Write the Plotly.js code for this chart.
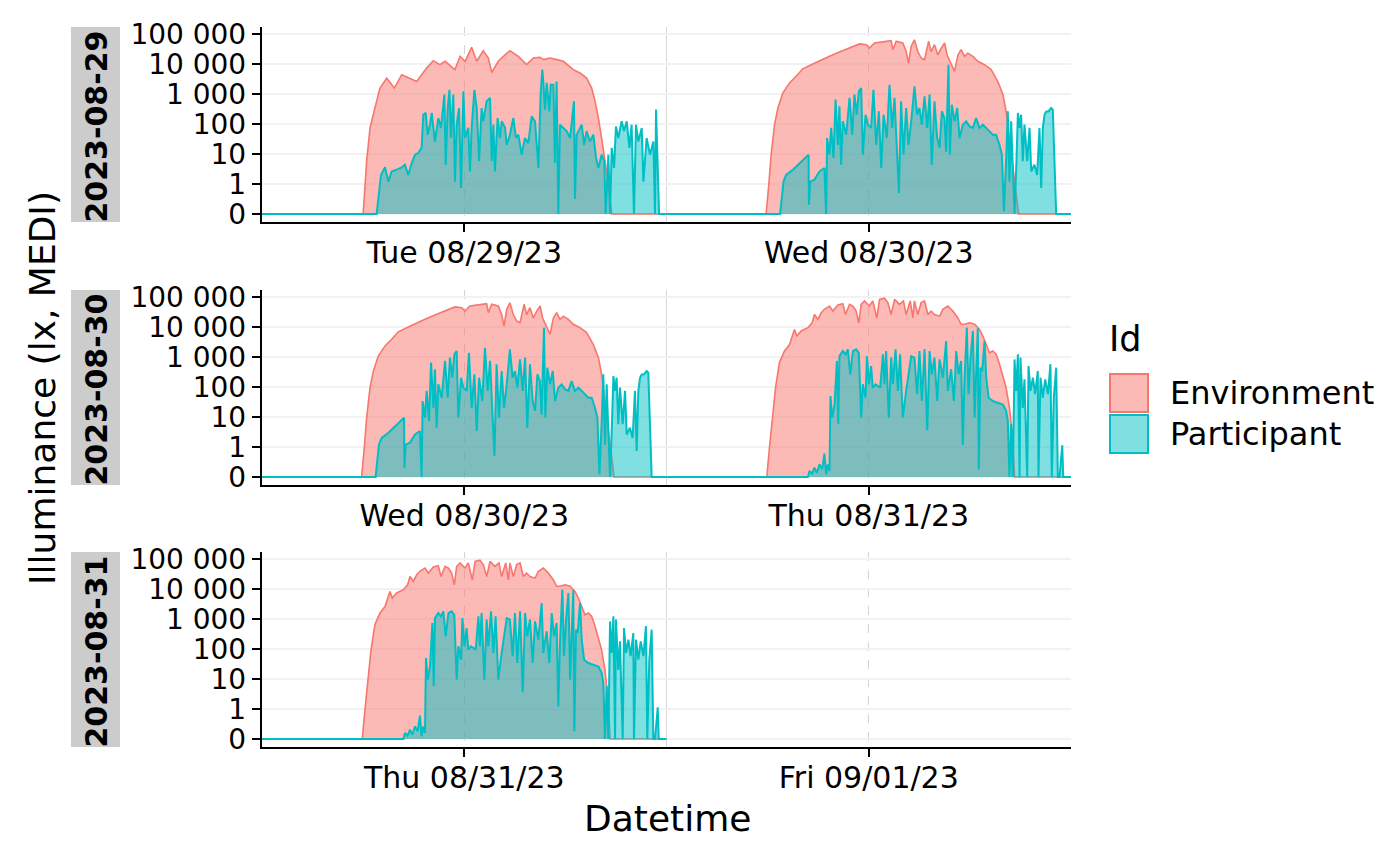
<!DOCTYPE html>
<html><head><meta charset="utf-8">
<script src="https://cdn.plot.ly/plotly-3.0.1.min.js"></script>
<style>html,body{margin:0;padding:0;background:#fff}#chart{width:1400px;height:866px}</style>
</head><body><div id="chart"></div>
<script>
// ---------- data ----------
const days = ['2023-08-29','2023-08-30','2023-08-31','2023-09-01'];
const dayLabels = ['Tue 08/29/23','Wed 08/30/23','Thu 08/31/23','Fri 09/01/23'];
const stripLabels = ['2023-08-29','2023-08-30','2023-08-31'];
const seriesNames = ['Environment','Participant'];
const yTickValues = [0,1,10,100,1000,10000,100000];
const yTickLabels = ['0','1','10','100','1 000','10 000','100 000'];

// Day 1 (2023-08-29): hours of day, illuminance (lx)
const envHours1 = [0,6.0,6.21,6.41,6.70,7.00,7.40,7.85,8.29,8.78,9.18,9.47,9.77,10.16,10.56,10.86,11.45,11.75,12.05,12.44,12.74,13.13,13.43,13.63,14.02,14.42,14.71,15.21,15.41,15.70,16.10,16.50,16.69,17.09,17.48,17.88,18.47,18.87,19.26,19.56,19.76,19.96,20.15,20.35,20.55,20.75,24];
const envLux1 = [0,0,5.8,74,340,1580,3400,1580,4400,3400,2600,4400,7400,12900,9500,12300,6500,18000,12300,36000,12300,27500,15800,5200,12300,20000,27500,18000,14000,9500,15800,16600,14000,15800,14000,12300,6500,5000,3400,1580,575,158,34,5.8,0.98,0,0];
const partHours1 = [0,6.80,7.06,7.30,7.50,7.69,7.99,8.29,8.48,8.68,8.88,9.08,9.28,9.47,9.57,9.71,9.83,9.97,10.07,10.26,10.46,10.62,10.82,10.90,11.02,11.12,11.21,11.35,11.45,11.55,11.69,11.81,11.95,12.04,12.24,12.34,12.44,12.60,12.74,12.88,13.03,13.13,13.33,13.53,13.63,13.73,13.82,13.98,14.12,14.22,14.42,14.52,14.71,14.91,15.07,15.21,15.41,15.60,15.80,16.00,16.20,16.40,16.53,16.63,16.69,16.79,16.89,17.05,17.13,17.29,17.38,17.48,17.58,17.68,17.88,18.08,18.28,18.51,18.57,18.67,18.97,19.11,19.26,19.46,19.66,19.82,19.96,20.15,20.31,20.39,20.55,20.65,20.75,20.89,21.00,21.14,21.34,21.48,21.64,21.80,21.93,22.07,22.19,22.33,22.53,22.63,22.82,23.02,23.22,23.32,23.38,23.46,23.56,24];
const partLux1 = [0,0,2.0,3.6,1.2,2.6,3.0,3.6,4.4,2.0,5,9.5,11,16,204,234,44,95,234,26,158,74,955,4.4,340,1380,34,955,1.2,95,340,0.87,1230,34,74,2.6,74,1380,340,5.8,340,123,575,741,5.8,95,2.6,158,34,123,74,20,44,158,34,44,9.5,34,23,180,123,3.4,955,6460,2630,300,2340,263,2040,2040,5,2630,0,95,74,58,34,575,0.5,44,95,20,58,26,44,7.4,3.4,9.5,5.8,0,9.5,0,16,3.4,83,34,123,58,123,16,95,0,95,26,74,1.2,34,9.5,26,0,302,5.8,0,0];

// Day 2 (2023-08-30)
const envHours2 = [0,5.91,6.07,6.21,6.41,6.61,6.90,7.30,7.69,8.09,8.68,9.18,9.67,10.26,10.86,11.45,11.85,12.04,12.34,12.84,13.33,13.43,13.63,14.02,14.22,14.36,14.52,14.71,14.91,15.11,15.31,15.55,15.70,15.90,16.10,16.30,16.50,16.65,16.89,17.09,17.29,17.48,17.68,17.88,18.18,18.47,18.87,19.26,19.66,19.96,20.15,20.35,20.55,20.75,20.89,24];
const envLux2 = [0,0,0.98,9.5,95,340,1070,2340,3900,6900,10000,13800,18000,25000,34000,46700,44000,34000,50000,54000,60000,30000,57000,50000,26000,10700,39000,64000,26000,15800,13800,57000,26000,44000,20000,34000,50000,20000,9500,5700,20000,30000,18000,23000,18000,12300,9500,6500,2600,955,263,34,3.4,0.64,0,0];
const partHours2 = [0,6.74,6.94,7.10,7.50,7.89,8.19,8.43,8.45,8.52,8.78,9.08,9.37,9.47,9.53,9.67,9.77,9.91,10.03,10.17,10.26,10.36,10.46,10.66,10.86,11.02,11.15,11.29,11.41,11.55,11.65,11.81,11.95,12.14,12.28,12.44,12.60,12.74,12.88,13.07,13.23,13.39,13.53,13.67,13.79,13.92,14.06,14.22,14.36,14.52,14.71,14.87,15.01,15.15,15.31,15.47,15.61,15.74,15.90,16.06,16.20,16.34,16.49,16.59,16.73,16.81,16.93,17.09,17.25,17.39,17.58,17.78,17.98,18.18,18.37,18.57,18.77,18.97,19.17,19.36,19.56,19.76,19.90,20.02,20.15,20.25,20.35,20.45,20.55,20.65,20.75,20.85,20.95,21.04,21.14,21.24,21.40,21.54,21.64,21.83,21.99,22.13,22.23,22.33,22.43,22.53,22.67,22.82,22.92,23.02,23.12,24];
const partLux2 = [0,0,1.2,2.0,3.0,5,7.4,9.5,0.31,1.2,1.4,2.6,3.4,0,34,9.5,74,7.4,650,20,390,4.4,123,44,740,44,955,204,1230,1580,9.5,204,95,74,1380,20,263,3.4,204,34,2040,74,740,7.4,0.7,575,9.5,340,20,123,1800,204,340,95,830,74,955,4.4,575,34,16,263,158,12,9500,9.5,440,123,340,34,95,123,83,74,158,74,95,74,58,44,44,20,9.5,0.09,5.8,263,1.2,123,3.4,0,3.4,234,74,204,5.8,95,5.8,74,2.6,4.4,2.0,74,0.87,74,204,263,263,340,300,2.6,0,0];

// Day 3 (2023-08-31)
const envHours3 = [0,5.95,6.11,6.27,6.47,6.70,7.00,7.30,7.50,7.59,7.73,7.99,8.39,8.64,8.78,8.98,9.18,9.37,9.67,9.87,10.17,10.46,10.62,10.86,11.06,11.25,11.41,11.55,11.75,12.04,12.24,12.48,12.64,12.93,13.13,13.33,13.53,13.82,14.06,14.22,14.46,14.62,14.71,14.91,15.11,15.31,15.51,15.70,15.90,16.20,16.40,16.69,16.99,17.29,17.48,17.68,17.98,18.28,18.57,18.77,18.97,19.16,19.36,19.56,19.76,19.96,20.15,20.35,20.55,20.65,24];
const envLux3 = [0,0,0.98,9.5,95,650,1580,2600,6500,8300,5000,7400,9500,13800,26000,18000,30000,39000,50000,34000,54000,60000,26000,57000,50000,34000,13800,57000,74000,50000,74000,20000,83000,91000,65000,26000,83000,57000,74000,26000,74000,20000,74000,26000,65000,74000,26000,34000,26000,23000,39000,50000,34000,20000,12300,12300,13800,12300,8300,5000,2600,1380,1580,1230,575,234,95,20,1.6,0,0];
const partHours3 = [0,8.39,8.48,8.64,8.78,8.92,9.08,9.24,9.37,9.47,9.57,9.67,9.73,9.83,9.97,10.11,10.19,10.26,10.46,10.62,10.76,10.90,11.06,11.25,11.41,11.55,11.65,11.81,11.89,12.01,12.14,12.24,12.40,12.54,12.68,12.84,12.93,13.03,13.19,13.33,13.43,13.59,13.73,13.86,14.02,14.22,14.38,14.52,14.71,14.87,15.01,15.15,15.31,15.47,15.61,15.74,15.90,16.06,16.20,16.40,16.59,16.69,16.89,17.05,17.19,17.33,17.48,17.58,17.68,17.82,17.92,18.04,18.18,18.28,18.37,18.47,18.53,18.63,18.73,18.87,18.97,19.11,19.36,19.66,19.96,20.15,20.25,20.35,20.45,20.55,20.65,20.75,20.85,20.95,21.00,21.14,21.24,21.40,21.48,21.60,21.74,21.87,22.03,22.07,22.19,22.33,22.47,22.63,22.78,22.86,22.98,23.12,23.22,23.32,23.48,23.54,24];
const partLux3 = [0,0,0.2,0.11,0.31,0.14,0.42,0.26,0.78,0.09,0.42,0.2,50,9.5,26,740,5.8,1070,1580,1230,1800,263,1580,1800,1380,9.5,123,44,1070,123,500,95,123,107,95,1230,123,1580,9.5,955,123,1800,74,1230,9.5,74,340,1070,955,58,1580,34,1800,3.6,1580,263,955,34,830,204,3400,74,390,34,1580,263,740,1.2,158,9500,58,955,7400,9.5,263,9100,0.26,440,340,3400,204,44,34,30,26,16,7.4,0,5.8,0,830,74,1230,0,955,20,180,0,500,74,204,58,340,0,204,44,180,58,575,0,44,440,0,0,1.14,0,0];

const dayData = [
  {env: [envHours1, envLux1], part: [partHours1, partLux1]},
  {env: [envHours2, envLux2], part: [partHours2, partLux2]},
  {env: [envHours3, envLux3], part: [partHours3, partLux3]}
];

// ---------- helpers ----------
const W = 1400, H = 866;
const FONT = 'DejaVu Sans, Verdana, sans-serif';
const envColor = '#F8766D', partColor = '#00BFC4';
const envFill = 'rgba(248,118,109,0.5)', partFill = 'rgba(0,191,196,0.5)';
function symlog(v){ return v <= 1 ? v : 1 + Math.log10(v); }
function stamp(day, h){
  const base = Date.parse(day + 'T00:00:00Z');
  return new Date(base + Math.round(h*3600000)).toISOString().slice(0,19).replace('T',' ');
}
const px = x => x / W;
const py = y => 1 - y / H;

// panel geometry (pixels)
const panelX = [262, 1071];
const panelY = [[27,222],[290,485],[552,747]];

const traces = [];
const layout = {
  width: W, height: H, autosize: false,
  margin: {l:0, r:0, t:0, b:0, pad:0},
  paper_bgcolor: '#ffffff', plot_bgcolor: '#ffffff',
  showlegend: false,
  font: {family: FONT, color: '#000000'},
  shapes: [], annotations: []
};

for (let r = 0; r < 3; r++) {
  const s = r === 0 ? '' : String(r + 1);
  const xa = 'x' + s, ya = 'y' + s;
  // day r on the left half, day r+1 on the right half
  for (const d of [r, r + 1]) {
    if (d > 2) continue;
    const dd = dayData[d];
    traces.push({
      type: 'scatter', mode: 'lines', name: seriesNames[0], xaxis: xa, yaxis: ya,
      x: dd.env[0].map(h => stamp(days[d], h)), y: dd.env[1].map(symlog),
      fill: 'tozeroy', fillcolor: envFill, line: {color: envColor, width: 1.6},
      hoverinfo: 'skip'
    });
  }
  for (const d of [r, r + 1]) {
    if (d > 2) continue;
    const dd = dayData[d];
    traces.push({
      type: 'scatter', mode: 'lines', name: seriesNames[1], xaxis: xa, yaxis: ya,
      x: dd.part[0].map(h => stamp(days[d], h)), y: dd.part[1].map(symlog),
      fill: 'tozeroy', fillcolor: partFill, line: {color: partColor, width: 2},
      hoverinfo: 'skip'
    });
  }
  layout['xaxis' + s] = {
    domain: [px(panelX[0]), px(panelX[1])], anchor: ya, type: 'date',
    range: [stamp(days[r], 0), stamp(days[r], 48)],
    tickmode: 'array',
    tickvals: [stamp(days[r], 12), stamp(days[r + 1], 12)],
    ticktext: [dayLabels[r], dayLabels[r + 1]],
    showline: true, linecolor: '#000000', linewidth: 2.2,
    ticks: 'outside', ticklen: 8, tickwidth: 2, tickcolor: '#000000',
    ticklabelstandoff: -5,
    showgrid: true, gridcolor: '#d4d4d4', gridwidth: 1.2, griddash: 'dash',
    minor: {tickmode: 'array', tickvals: [stamp(days[r], 0), stamp(days[r], 24), stamp(days[r], 48)],
            showgrid: true, gridcolor: '#d9d9d9', gridwidth: 1.4, griddash: 'solid', ticks: ''},
    zeroline: false, automargin: false, fixedrange: true,
    tickfont: {family: FONT, size: 30, color: '#000000'}
  };
  layout['yaxis' + s] = {
    domain: [py(panelY[r][1]), py(panelY[r][0])], anchor: xa,
    range: [-0.267, 6.233],
    tickmode: 'array', tickvals: yTickValues.map(symlog), ticktext: yTickLabels,
    showline: true, linecolor: '#000000', linewidth: 2.2,
    ticks: 'outside', ticklen: 8, tickwidth: 2, tickcolor: '#000000',
    showgrid: true, gridcolor: '#f2f2f2', gridwidth: 2,
    zeroline: false, automargin: false, fixedrange: true,
    tickfont: {family: FONT, size: 28, color: '#000000'}
  };
  // facet strip (left side)
  layout.shapes.push({type: 'rect', xref: 'paper', yref: 'paper', layer: 'below',
    x0: px(71), x1: px(120), y0: py(panelY[r][1]), y1: py(panelY[r][0]),
    fillcolor: '#cccccc', line: {width: 0}});
  layout.annotations.push({xref: 'paper', yref: 'paper', x: px(96), y: py((panelY[r][0] + panelY[r][1]) / 2 + 2),
    text: stripLabels[r], showarrow: false, textangle: -90, xanchor: 'center', yanchor: 'middle',
    font: {family: FONT, size: 30, color: '#000000', weight: 'bold'}});
}

// axis titles
layout.annotations.push({xref: 'paper', yref: 'paper', x: px(42), y: py(388), text: 'Illuminance (lx, MEDI)',
  showarrow: false, textangle: -90, xanchor: 'center', yanchor: 'middle', font: {family: FONT, size: 36, color: '#000000'}});
layout.annotations.push({xref: 'paper', yref: 'paper', x: px(667), y: py(818), text: 'Datetime',
  showarrow: false, xanchor: 'center', yanchor: 'middle', font: {family: FONT, size: 36, color: '#000000'}});

// legend (drawn manually to get the square ggplot keys)
layout.annotations.push({xref: 'paper', yref: 'paper', x: px(1107), y: py(339), text: 'Id',
  showarrow: false, xanchor: 'left', yanchor: 'middle', font: {family: FONT, size: 35, color: '#000000'}});
const keyFill = [envFill, partFill], keyLine = [envColor, partColor], keyY = [[374,412],[415,453]];
for (let i = 0; i < 2; i++) {
  layout.shapes.push({type: 'rect', xref: 'paper', yref: 'paper', layer: 'above',
    x0: px(1110), x1: px(1148), y0: py(keyY[i][1]), y1: py(keyY[i][0]),
    fillcolor: keyFill[i], line: {color: keyLine[i], width: 2}});
  layout.annotations.push({xref: 'paper', yref: 'paper', x: px(1168), y: py((keyY[i][0] + keyY[i][1]) / 2),
    text: seriesNames[i], showarrow: false, xanchor: 'left', yanchor: 'middle',
    font: {family: FONT, size: 32, color: '#000000'}});
}

Plotly.newPlot('chart', traces, layout, {staticPlot: true, displayModeBar: false});
</script>
</body></html>
